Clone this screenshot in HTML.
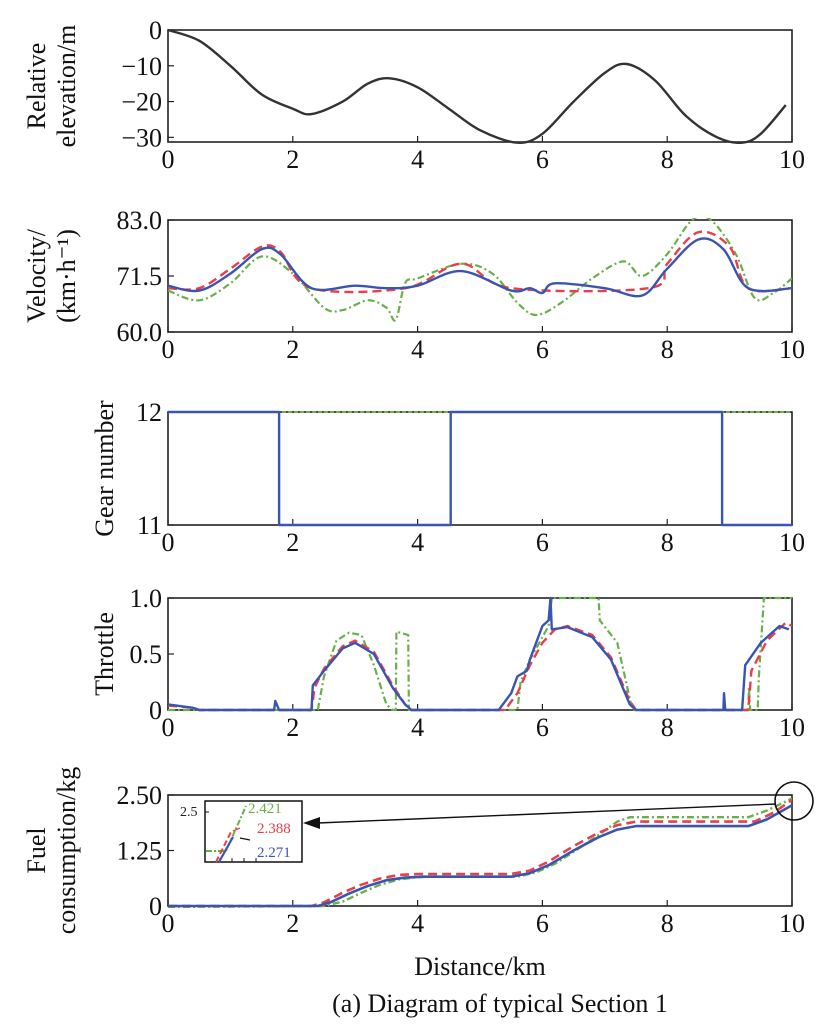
<!DOCTYPE html>
<html><head><meta charset="utf-8">
<style>
body{margin:0;background:#fff;}
svg{display:block;}
svg text{font-family:"Liberation Serif","Times New Roman",serif;}
</style></head>
<body>
<svg id="c" width="824" height="1032" viewBox="0 0 824 1032" xmlns="http://www.w3.org/2000/svg" font-family="Liberation Serif, serif"></svg>
<script>
const xTicks=[0,2,4,6,8,10];
const elevX=[0,0.5,1,1.5,2,2.3,2.8,3.2,3.55,4,4.5,5,5.6,6,6.5,7,7.35,7.8,8.3,8.8,9.2,9.5,9.9];
const elevY=[0,-3,-10,-18,-22,-23.5,-20,-15,-13.5,-16,-22,-28,-31.5,-29,-20,-12,-9.5,-14,-24,-30,-31.5,-29,-21];
const velBX=[0,0.5,1,1.5,1.8,2.3,3,3.5,4,4.7,5.5,5.8,6,6.2,7,7.6,8,8.5,8.9,9.3,10];
const velBY=[69.5,68.5,72,77,76,69,69.5,69,69.5,72.5,68.5,69,68,70,69,67.5,73,79,77,69,69];
const velRX=[0,0.5,1,1.5,1.8,2.3,3.8,4.7,5.5,7.7,8,8.5,9,9.3,10];
const velRY=[69,69,73,77.5,76.5,69,69,74,69,69,74,80.5,77.5,69,69];
const velGX=[0,0.5,1,1.5,2,2.5,2.8,3.2,3.5,3.65,3.8,4,4.7,5.2,5.6,5.9,6.3,6.8,7.3,7.6,8,8.4,8.7,9.1,9.4,9.7,10];
const velGY=[68.5,66.5,70,75.5,72,65,64.5,66.5,65,62.5,70,71,74,72,66,63.5,66,71,74.5,71.5,76,83,83,76,67,68,71];
const gearBX=[0,1.78,1.78,4.53,4.53,8.88,8.88,10];
const gearBY=[12,12,11,11,12,12,11,11];
const thrBX=[0,0.4,0.5,1.7,1.72,1.78,2.3,2.32,2.5,2.8,3,3.3,3.6,3.8,3.9,5.3,5.5,5.6,5.75,5.8,6,6.1,6.13,6.15,6.4,6.8,7.1,7.4,7.5,8.9,8.91,8.93,9.2,9.25,9.5,9.8,9.95];
const thrBY=[0.05,0.02,0,0,0.08,0,0,0.22,0.35,0.55,0.6,0.5,0.2,0.05,0,0,0.15,0.3,0.35,0.45,0.75,0.8,1.0,0.72,0.74,0.65,0.45,0.05,0,0,0.15,0,0,0.4,0.6,0.75,0.72];
const thrRX=[0,0.4,0.5,2.3,2.35,2.5,2.8,3,3.3,3.6,3.8,3.9,5.4,5.6,5.8,6,6.2,6.4,6.8,7.1,7.4,7.5,9.3,9.35,9.6,9.9,10];
const thrRY=[0.04,0.02,0,0,0.2,0.37,0.57,0.62,0.52,0.22,0.05,0,0,0.15,0.4,0.6,0.72,0.75,0.67,0.47,0.08,0,0,0.35,0.62,0.78,0.75];
const thrGX=[0,2.4,2.5,2.7,2.9,3.1,3.3,3.5,3.6,3.65,3.66,3.85,3.86,5.6,5.65,5.8,6.1,6.15,6.9,6.92,7.2,7.4,7.45,9.3,9.31,9.33,9.45,9.47,9.55,10];
const thrGY=[0,0,0.3,0.62,0.69,0.67,0.4,0.05,0,0,0.7,0.67,0,0,0.25,0.45,0.75,1.0,1.0,0.8,0.6,0.1,0,0,0.2,0,0,0.3,1.0,1.0];
const fuelBX=[0,2.4,2.6,2.9,3.2,3.5,3.8,4.1,5.5,5.8,6.1,6.5,6.9,7.2,7.5,9.3,9.6,10];
const fuelBY=[0,0,0.08,0.28,0.45,0.58,0.64,0.66,0.66,0.74,0.92,1.25,1.55,1.72,1.8,1.8,1.95,2.271];
const fuelRX=[0,2.3,2.5,2.8,3.1,3.4,3.7,4,5.5,5.8,6.1,6.5,6.9,7.2,7.5,9.4,9.7,10];
const fuelRY=[0,0,0.08,0.3,0.48,0.62,0.7,0.72,0.72,0.8,1.0,1.35,1.65,1.82,1.9,1.9,2.1,2.388];
const fuelGX=[0,2.5,2.8,3.1,3.4,3.7,4,4.3,5.6,5.9,6.2,6.5,6.9,7.2,7.4,9.3,9.6,10];
const fuelGY=[-0.02,0,0.1,0.3,0.48,0.6,0.65,0.66,0.66,0.76,0.95,1.22,1.6,1.9,2.0,2.0,2.15,2.421];

const NS="http://www.w3.org/2000/svg";
const svg=document.getElementById('c');
const FONT='"Liberation Serif", serif';
function mk(tag,attrs,parent){const e=document.createElementNS(NS,tag);for(const k in attrs)e.setAttribute(k,attrs[k]);if(tag==='text')e.style.fontFamily=FONT;(parent||svg).appendChild(e);return e;}
const X0=168,X1=792;
const sx=v=>X0+(v/10)*(X1-X0);
function panel(name,top,bot,ymin,ymax,yt,ytl,title){
  const sy=v=>bot-(v-ymin)/(ymax-ymin)*(bot-top);
  const g=mk('g',{});
  
  
  const fr=mk('rect',{x:X0,y:top,width:X1-X0,height:bot-top,fill:'none',stroke:'#222','stroke-width':1.6},g);
  
  
  xTicks.forEach(t=>{
    mk('line',{x1:sx(t),x2:sx(t),y1:bot,y2:bot-6,stroke:'#222','stroke-width':1.2},g);
    const tx=mk('text',{x:sx(t),y:bot+26,'font-size':26,'text-anchor':'middle',fill:'#111'},g);
    tx.textContent=t;
    
    
  });
  yt.forEach((t,i)=>{
    mk('line',{x1:X0,x2:X0+6,y1:sy(t),y2:sy(t),stroke:'#222','stroke-width':1.2},g);
    const tx=mk('text',{x:X0-6,y:sy(t)+9,'font-size':26,'text-anchor':'end',fill:'#111'},g);
    tx.textContent=ytl[i];
    
    
  });
  const cy=(top+bot)/2;
  const tt=mk('text',{transform:`translate(${title.length>1?47:105},${cy}) rotate(-90)`,'font-size':26,'text-anchor':'middle',fill:'#111'},g);
  
  
  title.forEach((l,i)=>{const ts=mk('tspan',{x:0,dy:i==0?(title.length>1?-2:8):30},tt);ts.textContent=l;});
  const cp=mk('clipPath',{id:'cp'+name},g);
  mk('rect',{x:X0,y:top-2,width:X1-X0,height:bot-top+4},cp);
  return {g,sy,clip:'url(#cp'+name+')'};
}
function line(p,xs,ys,color,dash,w,nm,smooth){
  const P=xs.map((x,i)=>[sx(x),p.sy(ys[i])]);
  let d='M'+P[0][0].toFixed(1)+','+P[0][1].toFixed(1);
  for(let i=1;i<P.length;i++){
    if(smooth){
      const p0=P[i-2]||P[i-1],p1=P[i-1],p2=P[i],p3=P[i+1]||P[i];
      const c1=[p1[0]+(p2[0]-p0[0])/6,p1[1]+(p2[1]-p0[1])/6];
      const c2=[p2[0]-(p3[0]-p1[0])/6,p2[1]-(p3[1]-p1[1])/6];
      d+='C'+c1[0].toFixed(1)+','+c1[1].toFixed(1)+' '+c2[0].toFixed(1)+','+c2[1].toFixed(1)+' '+p2[0].toFixed(1)+','+p2[1].toFixed(1);
    } else d+='L'+P[i][0].toFixed(1)+','+P[i][1].toFixed(1);
  }
  const e=mk('path',{d,fill:'none',stroke:color,'stroke-width':w,'stroke-dasharray':dash,'clip-path':p.clip,'stroke-linejoin':'round'},p.g);
  
  
}
const BL='#3a55b0',RD='#e8404a',GR='#6ab04a';
let p=panel('elevation',30,142,-31.3,0,[0,-10,-20,-30],['0','−10','−20','−30'],['Relative','elevation/m']);
line(p,elevX,elevY,'#333','',2.4,'elevation-line',true);
p=panel('velocity',220,332,60,83,[60,71.5,83],['60.0','71.5','83.0'],['Velocity/','(km·h\u207B\u00B9)']);
line(p,velGX,velGY,GR,'7,3,2,3',2.2,'velocity-green',true);
line(p,velRX,velRY,RD,'9,5',2.4,'velocity-red',true);
line(p,velBX,velBY,BL,'',2.4,'velocity-blue',true);
p=panel('gear',412,525,11,12,[11,12],['11','12'],['Gear number']);
line(p,[0,10],[12,12],GR,'4,2',2,'gear-green');
line(p,gearBX,gearBY,BL,'',2.4,'gear-blue');
p=panel('throttle',598,710,0,1,[0,0.5,1],['0','0.5','1.0'],['Throttle']);
line(p,thrGX,thrGY,GR,'7,3,2,3',2.2,'throttle-green');
line(p,thrRX,thrRY,RD,'9,5',2.4,'throttle-red');
line(p,thrBX,thrBY,BL,'',2.4,'throttle-blue');
p=panel('fuel',795,906,0,2.5,[0,1.25,2.5],['0','1.25','2.50'],['Fuel','consumption/kg']);
line(p,fuelGX,fuelGY,GR,'7,3,2,3',2.4,'fuel-green',false);
line(p,fuelRX,fuelRY,RD,'9,5',2.6,'fuel-red',false);
line(p,fuelBX,fuelBY,BL,'',2.6,'fuel-blue',false);
const circ=mk('circle',{cx:794,cy:801,r:19,fill:'none',stroke:'#111','stroke-width':1.6});


const ar=mk('line',{x1:776,y1:804,x2:318,y2:823,stroke:'#111','stroke-width':1.4});


mk('polygon',{points:'303,823 320,817 320,829',fill:'#111'});
const ins=mk('g',{});


mk('rect',{x:205,y:801,width:97,height:61,fill:'#fff',stroke:'#111','stroke-width':1.5},ins);
mk('line',{x1:205,x2:209,y1:812,y2:812,stroke:'#111'},ins);
[220,232,244,256].forEach(x=>mk('line',{x1:x,x2:x,y1:862,y2:858,stroke:'#111'},ins));
mk('path',{d:'M206,851 L226,851 L246,806',fill:'none',stroke:GR,'stroke-width':2,'stroke-dasharray':'6,2,2,2'},ins);
mk('path',{d:'M216,862 L231,832',fill:'none',stroke:RD,'stroke-width':2,'stroke-dasharray':'6,3'},ins);
mk('path',{d:'M219,862 L233,837',fill:'none',stroke:BL,'stroke-width':2.2},ins);
mk('line',{x1:240,y1:838,x2:250,y2:840,stroke:'#111','stroke-width':1.2},ins);
mk('line',{x1:233,y1:831,x2:240,y2:828,stroke:RD,'stroke-width':1.4},ins);
const l0=mk('text',{x:180,y:816,'font-size':14,fill:'#222'},ins);l0.textContent='2.5';
const l1=mk('text',{x:248,y:813,'font-size':15,fill:GR},ins);l1.textContent='2.421';
const l2=mk('text',{x:257,y:833,'font-size':15,fill:RD},ins);l2.textContent='2.388';
const l3=mk('text',{x:257,y:857,'font-size':15,fill:BL},ins);l3.textContent='2.271';
const xl=mk('text',{x:480,y:975,'font-size':26,'text-anchor':'middle',fill:'#111'});
xl.textContent='Distance/km';


const cap=mk('text',{x:500,y:1012,'font-size':26,'text-anchor':'middle',fill:'#111'});
cap.textContent='(a) Diagram of typical Section 1';


</script>
</body></html>
